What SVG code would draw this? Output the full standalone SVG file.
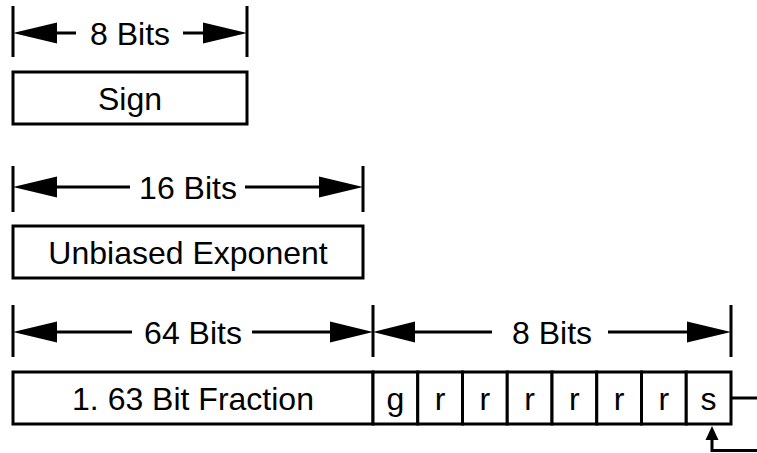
<svg xmlns="http://www.w3.org/2000/svg" width="757" height="453" viewBox="0 0 757 453">
<style>
.box{fill:#fff;stroke:#000;stroke-width:3}
.ln{stroke:#000;stroke-width:3;fill:none}
.hd{fill:#000;stroke:none}
.t{font-family:"Liberation Sans",Arial,Helvetica,sans-serif;font-size:32px;fill:#000;text-anchor:middle}
</style>
<rect width="757" height="453" fill="#fff"/>
<g id="sign">
<rect class="box" x="13" y="72" width="234" height="52"/>
<text class="t" x="130" y="110">Sign</text>
</g>
<g id="exponent">
<rect class="box" x="13" y="226" width="350" height="52"/>
<text class="t" x="188" y="264">Unbiased Exponent</text>
</g>
<g id="fraction">
<rect class="box" x="13" y="372" width="360" height="52"/>
<text class="t" x="193" y="410">1. 63 Bit Fraction</text>
</g>
<g id="guard">
<rect class="box" x="373" y="372" width="44.75" height="52"/>
<text class="t" x="395.4" y="410">g</text>
</g>
<g id="round1">
<rect class="box" x="417.75" y="372" width="44.75" height="52"/>
<text class="t" x="440.1" y="410">r</text>
</g>
<g id="round2">
<rect class="box" x="462.5" y="372" width="44.75" height="52"/>
<text class="t" x="484.9" y="410">r</text>
</g>
<g id="round3">
<rect class="box" x="507.25" y="372" width="44.75" height="52"/>
<text class="t" x="529.6" y="410">r</text>
</g>
<g id="round4">
<rect class="box" x="552" y="372" width="44.75" height="52"/>
<text class="t" x="574.4" y="410">r</text>
</g>
<g id="round5">
<rect class="box" x="596.75" y="372" width="44.75" height="52"/>
<text class="t" x="619.1" y="410">r</text>
</g>
<g id="round6">
<rect class="box" x="641.5" y="372" width="44.75" height="52"/>
<text class="t" x="663.9" y="410">r</text>
</g>
<g id="sticky">
<rect class="box" x="686.25" y="372" width="44.75" height="52"/>
<text class="t" x="708.6" y="410">s</text>
</g>
<g id="connectors">
<path class="ln" d="M13,6V57M247,6V57M56,33H76M183,33H204"/>
<polygon class="hd" points="13,33 57,22.5 57,43.5"/>
<polygon class="hd" points="247,33 203,22.5 203,43.5"/>
<text class="t" x="130" y="44.5">8 Bits</text>
<path class="ln" d="M13,166V212M363,166V212M56,187H130M245,187H320"/>
<polygon class="hd" points="13,187 57,176.5 57,197.5"/>
<polygon class="hd" points="363,187 319,176.5 319,197.5"/>
<text class="t" x="188" y="198.5">16 Bits</text>
<path class="ln" d="M13,305V357M373,305V357M731,305V357M56,332H132M252,332H331M414,332H492M608,332H688"/>
<polygon class="hd" points="13,332 57,321.5 57,342.5"/>
<polygon class="hd" points="373,332 330,321.5 330,342.5"/>
<text class="t" x="193" y="343.5">64 Bits</text>
<polygon class="hd" points="373,332 415,321.5 415,342.5"/>
<polygon class="hd" points="731,332 687,321.5 687,342.5"/>
<text class="t" x="552" y="343.5">8 Bits</text>
<path class="ln" d="M731,398H757"/>
<path class="ln" d="M757,450.5H712V439"/>
<polygon class="hd" points="705.5,440 718.5,440 712,426"/>
</g>
</svg>
